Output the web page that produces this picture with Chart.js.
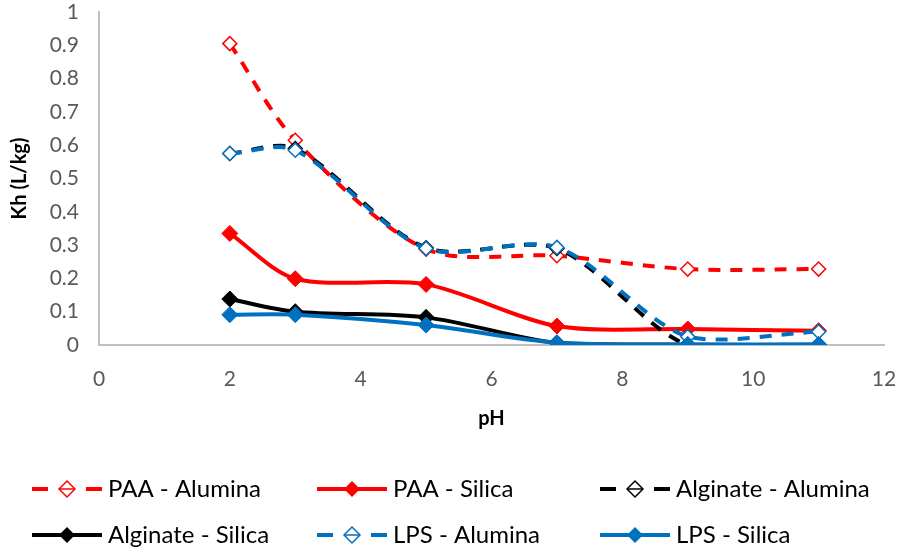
<!DOCTYPE html>
<html>
<head>
<meta charset="utf-8">
<script src="https://cdn.jsdelivr.net/npm/chart.js@4.4.1/dist/chart.umd.min.js"></script>
<style>
  html, body { margin: 0; padding: 0; background: #fff; }
  #wrap { width: 900px; height: 556px; }
</style>
</head>
<body>
<div id="wrap"><canvas id="khChart" width="900" height="556"></canvas></div>
<script>
// pH values and Kh (L/kg)
const phValues = [ 2, 3, 5, 7, 9, 11 ];

const paaAlumina      = [ 0.905, 0.615, 0.288, 0.268, 0.228, 0.228 ];
const paaSilica       = [ 0.335, 0.199, 0.182, 0.057, 0.048, 0.043 ];
const alginateAlumina = [ 0.575, 0.590, 0.292, 0.290, 0.000, 0.000 ];
const alginateSilica  = [ 0.138, 0.100, 0.083, 0.006, 0.000, 0.000 ];
const lpsAlumina      = [ 0.575, 0.585, 0.290, 0.293, 0.025, 0.040 ];
const lpsSilica       = [ 0.091, 0.091, 0.060, 0.007, 0.002, 0.002 ];

const seriesNames  = [ 'PAA - Alumina', 'PAA - Silica', 'Alginate - Alumina',
                       'Alginate - Silica', 'LPS - Alumina', 'LPS - Silica' ];
const seriesValues = [ paaAlumina, paaSilica, alginateAlumina, alginateSilica, lpsAlumina, lpsSilica ];
const seriesColors = [ '#ff0000', '#ff0000', '#000000', '#000000', '#0070c0', '#0070c0' ];
const seriesDashed = [ true, false, true, false, true, false ];

const xTicks = [ 0, 2, 4, 6, 8, 10, 12 ];

const FONT = 'Lato, "Open Sans", sans-serif';

function toPoints( values ) {

    return values.map( function( v, i ) {
        return { x: phValues[ i ], y: v };
    } );

}

let datasets = seriesNames.map( function( name, i ) {

    let dashed = seriesDashed[ i ];

    return {
        label: name,
        data: toPoints( seriesValues[ i ] ),
        showLine: true,
        tension: 0.3,
        borderColor: seriesColors[ i ],
        borderWidth: 4,
        borderDash: dashed ? [ 12, 10 ] : [],
        pointStyle: 'rectRot',
        pointRadius: dashed ? 7 : 8,
        pointBorderWidth: dashed ? 1.5 : 1,
        pointBorderColor: seriesColors[ i ],
        pointBackgroundColor: dashed ? '#ffffff' : seriesColors[ i ],
        order: seriesNames.length - i,
    };

} );

// legend drawn under the plot, 3 columns x 2 rows like the Excel figure
const bottomLegend = {
    id: 'bottomLegend',
    afterDraw: function( chart ) {

        let ctx = chart.ctx;
        let colX = [ 32, 317, 600 ];
        let rowY = [ 489, 535 ];

        chart.data.datasets.forEach( function( ds, i ) {

            let x0 = colX[ i % 3 ];
            let y = rowY[ Math.floor( i / 3 ) ];
            let x1 = x0 + 70;
            let mid = x0 + 35;
            let dashed = seriesDashed[ i ];

            ctx.save();
            ctx.strokeStyle = ds.borderColor;
            ctx.lineWidth = 4;
            ctx.lineCap = 'butt';
            ctx.beginPath();
            if ( dashed ) {
                ctx.moveTo( x0, y ); ctx.lineTo( x0 + 16, y );
                ctx.moveTo( x1 - 16, y ); ctx.lineTo( x1, y );
            } else {
                ctx.moveTo( x0, y ); ctx.lineTo( x1, y );
            }
            ctx.stroke();

            let r = 8;
            ctx.beginPath();
            ctx.moveTo( mid, y - r );
            ctx.lineTo( mid + r, y );
            ctx.lineTo( mid, y + r );
            ctx.lineTo( mid - r, y );
            ctx.closePath();
            if ( dashed ) {
                ctx.fillStyle = '#ffffff';
                ctx.fill();
                ctx.lineWidth = 1.5;
                ctx.stroke();
                ctx.beginPath();
                ctx.moveTo( mid - r, y ); ctx.lineTo( mid + r, y );
                ctx.stroke();
            } else {
                ctx.fillStyle = ds.borderColor;
                ctx.fill();
            }

            ctx.fillStyle = '#000000';
            ctx.font = '24px ' + FONT;
            ctx.textBaseline = 'middle';
            ctx.textAlign = 'left';
            ctx.fillText( ds.label, x1 + 6, y );
            ctx.restore();

        } );

    }
};

let ctx = document.getElementById( 'khChart' ).getContext( '2d' );
let khChart = new Chart( ctx, {
    type: 'scatter',
    data: { datasets: datasets },
    options: {
        responsive: false,
        animation: false,
        layout: {
            autoPadding: false,
            padding: { left: 4, right: 0, top: 0, bottom: 121 },
        },
        plugins: {
            legend: { display: false },
            tooltip: { enabled: false },
        },
        scales: {
            x: {
                type: 'linear',
                min: 0,
                max: 12,
                afterBuildTicks: function( axis ) {
                    axis.ticks = xTicks.map( function( v ) { return { value: v }; } );
                },
                afterFit: function( axis ) {
                    axis.height = 90;
                    axis.paddingLeft = 0;
                    axis.paddingRight = 16;
                },
                grid: { display: false, drawTicks: false },
                border: { display: true, color: '#bfbfbf', width: 2 },
                ticks: {
                    color: '#595959',
                    font: { family: FONT, size: 21 },
                    padding: 22,
                },
                title: {
                    display: true,
                    text: 'pH',
                    color: '#000000',
                    font: { family: FONT, size: 20, weight: 'bold' },
                    padding: { top: 4 },
                },
            },
            y: {
                min: 0,
                max: 1,
                afterFit: function( axis ) {
                    axis.width = 95;
                    axis.paddingTop = 12;
                    axis.paddingBottom = 0;
                },
                grid: { display: false, drawTicks: false },
                border: { display: true, color: '#bfbfbf', width: 2 },
                ticks: {
                    stepSize: 0.1,
                    color: '#595959',
                    font: { family: FONT, size: 21 },
                    padding: 20,
                    callback: function( v ) {
                        return parseFloat( v.toFixed( 1 ) ).toString();
                    },
                },
                title: {
                    display: true,
                    text: 'Kh (L/kg)',
                    color: '#000000',
                    font: { family: FONT, size: 20, weight: 'bold' },
                    padding: { bottom: 4 },
                },
            },
        },
    },
    plugins: [ bottomLegend ],
} );
</script>
</body>
</html>
